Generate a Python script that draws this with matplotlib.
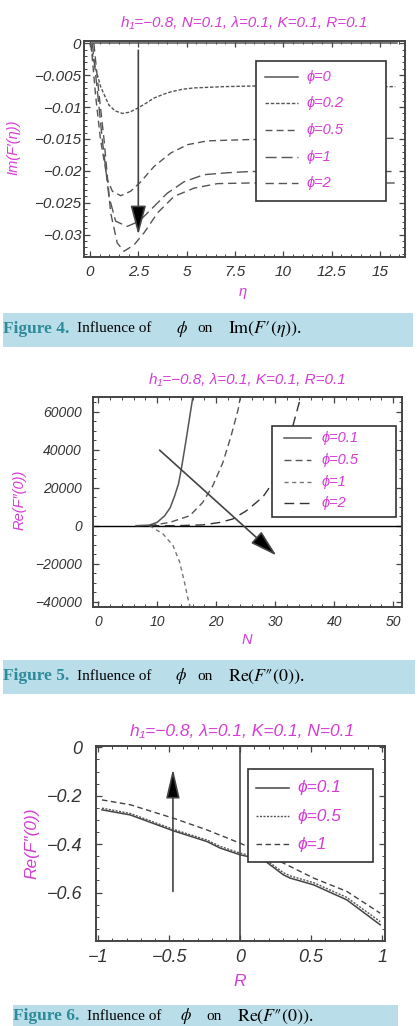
import matplotlib
matplotlib.use('Agg')
import matplotlib.pyplot as plt
from matplotlib.patches import Rectangle
from matplotlib.lines import Line2D
from matplotlib.ticker import MultipleLocator

W, H = 419, 1026
MAG = '#d63cd6'
GREY = '#555555'
TEAL = '#2e8b9a'
BAND = '#b9dde9'
SANS = ['Liberation Sans', 'DejaVu Sans']

# ---- figure 4 : Im(F'(eta)) against eta ----
eta_0 = [0.1, 15.9]
imf_0 = [0.0, 0.0]
eta_02 = [0.0, 0.25, 0.55, 0.98, 1.3, 1.68, 2.05, 2.45, 2.9, 3.3, 3.8, 4.2, 4.8, 5.4, 6.9, 8.5, 12.0, 15.8]
imf_02 = [0.0, -0.0035, -0.0068, -0.0097, -0.0106, -0.0110, -0.0108, -0.0102, -0.0094, -0.0086,
          -0.0080, -0.0076, -0.0072, -0.0070, -0.0068, -0.0067, -0.0068, -0.0068]
eta_05 = [0.05, 0.3, 0.55, 0.9, 1.16, 1.59, 2.1, 2.63, 3.32, 4.18, 5.04, 6.08, 7.1, 8.15, 12.0, 15.8]
imf_05 = [0.0, -0.0085, -0.0152, -0.0214, -0.0232, -0.0239, -0.0232, -0.0217, -0.0193, -0.0172,
          -0.0159, -0.0153, -0.0152, -0.0151, -0.0150, -0.0149]
eta_1 = [0.12, 0.4, 0.64, 0.98, 1.33, 1.93, 2.54, 3.14, 4.0, 4.87, 5.9, 7.1, 8.3, 12.0, 15.8]
imf_1 = [0.0, -0.0080, -0.0152, -0.0240, -0.0279, -0.0287, -0.0279, -0.0261, -0.0235, -0.0217,
         -0.0206, -0.0203, -0.0201, -0.0201, -0.0201]
eta_2 = [0.2, 0.45, 0.73, 1.07, 1.41, 1.76, 2.28, 2.8, 3.49, 4.35, 5.39, 6.6, 8.3, 12.0, 15.8]
imf_2 = [0.0, -0.0075, -0.0152, -0.0266, -0.0313, -0.0326, -0.0316, -0.0297, -0.0266, -0.0240,
         -0.0227, -0.0220, -0.0219, -0.0219, -0.0219]
fig4_labels = ['ϕ=0', 'ϕ=0.2', 'ϕ=0.5', 'ϕ=1', 'ϕ=2']
fig4_xticks = [0, 2.5, 5, 7.5, 10, 12.5, 15]
fig4_xlabels = ['0', '2.5', '5', '7.5', '10', '12.5', '15']
fig4_yticks = [0, -0.005, -0.01, -0.015, -0.02, -0.025, -0.03]
fig4_ylabels = ['0', '−0.005', '−0.01', '−0.015', '−0.02', '−0.025', '−0.03']

# ---- figure 5 : Re(F''(0)) against N ----
n_01 = [6.4, 8.7, 10.0, 11.25, 12.2, 12.95, 13.6, 14.07, 14.9, 15.6, 16.05]
ref_01 = [0, 300, 1800, 5200, 9500, 15700, 22000, 29600, 45300, 59200, 67900]
n_05 = [8.7, 12.1, 15.5, 17.7, 19.4, 21.1, 22.5, 23.7, 24.1]
ref_05 = [0, 1700, 5200, 12200, 20900, 33000, 47000, 60900, 67900]
n_1 = [8.7, 10.97, 12.66, 13.8, 14.6, 15.2, 15.55]
ref_1 = [0, -4350, -10400, -19200, -29600, -38300, -42500]
n_2 = [8.7, 13.2, 17.7, 20.6, 22.8, 25.1, 26.8, 28.0, 29.4, 31.3, 33.05, 34.2, 34.4]
ref_2 = [0, 0, 400, 1700, 3500, 7800, 12200, 15500, 21800, 37000, 53100, 66200, 67900]
fig5_labels = ['ϕ=0.1', 'ϕ=0.5', 'ϕ=1', 'ϕ=2']
fig5_xticks = [0, 10, 20, 30, 40, 50]
fig5_yticks = [60000, 40000, 20000, 0, -20000, -40000]
fig5_ylabels = ['60000', '40000', '20000', '0', '−20000', '−40000']

# ---- figure 6 : Re(F''(0)) against R ----
r_vals = [-0.974, -0.775, -0.469, -0.234, -0.141, 0.0, 0.165, 0.305, 0.352, 0.517, 0.751, 0.986]
ref6_01 = [-0.258, -0.279, -0.345, -0.389, -0.416, -0.444, -0.465, -0.527, -0.540, -0.568, -0.630, -0.733]
ref6_05 = [-0.251, -0.273, -0.339, -0.383, -0.409, -0.437, -0.458, -0.518, -0.531, -0.559, -0.620, -0.720]
r_vals_1 = [-0.974, -0.775, -0.469, -0.234, 0.0, 0.211, 0.517, 0.751, 0.986]
ref6_1 = [-0.217, -0.237, -0.293, -0.341, -0.396, -0.451, -0.540, -0.595, -0.685]
fig6_labels = ['ϕ=0.1', 'ϕ=0.5', 'ϕ=1']
fig6_xticks = [-1, -0.5, 0, 0.5, 1]
fig6_xlabels = ['−1', '−0.5', '0', '0.5', '1']
fig6_yticks = [0, -0.2, -0.4, -0.6]
fig6_ylabels = ['0', '−0.2', '−0.4', '−0.6']


def fx(x):
    return x / W


def fy(y):
    return 1 - y / H


fig = plt.figure(figsize=(W / 100, H / 100), dpi=100)


def make_axes(left, top, right, bottom):
    ax = fig.add_axes([fx(left), fy(bottom), (right - left) / W, (bottom - top) / H])
    for s in ax.spines.values():
        s.set_color('#444444')
        s.set_linewidth(1.4)
    return ax


def style_ticks(ax, fs, xpad, ypad, xminor, yminor):
    ax.xaxis.set_minor_locator(MultipleLocator(xminor))
    ax.yaxis.set_minor_locator(MultipleLocator(yminor))
    ax.tick_params(which='both', direction='in', top=True, right=True, colors='#444444',
                   labelcolor='#333333', labelsize=fs)
    ax.tick_params(which='major', length=4, width=0.9)
    ax.tick_params(which='minor', length=2, width=0.7)
    ax.tick_params(axis='x', pad=xpad)
    ax.tick_params(axis='y', pad=ypad)
    for lab in ax.get_xticklabels() + ax.get_yticklabels():
        lab.set_fontstyle('italic')
        lab.set_family(SANS)


def legend_box(box, rows, xline, xtext, labels, styles, fs):
    x0, y0, x1, y1 = box
    fig.patches.append(Rectangle((fx(x0), fy(y1)), (x1 - x0) / W, (y1 - y0) / H,
                                 transform=fig.transFigure, facecolor='white',
                                 edgecolor='#333333', lw=1.2))
    for y, lab, st in zip(rows, labels, styles):
        fig.lines.append(Line2D([fx(xline[0]), fx(xline[1])], [fy(y), fy(y)],
                                transform=fig.transFigure, **st))
        fig.text(fx(xtext), fy(y), lab, color=MAG, fontsize=fs, fontstyle='italic',
                 family=SANS, va='center', ha='left')


def caption(band, yc, num, xs, what):
    x0, y0, x1, y1 = band
    fig.patches.append(Rectangle((fx(x0), fy(y1)), (x1 - x0) / W, (y1 - y0) / H,
                                 transform=fig.transFigure, facecolor=BAND, edgecolor='none'))
    fig.text(fx(xs[0]), fy(yc), 'Figure %d.' % num, color=TEAL, fontsize=12.5,
             fontweight='bold', family='Liberation Serif', va='center')
    fig.text(fx(xs[1]), fy(yc), 'Influence of', color='black', fontsize=11,
             family='Liberation Serif', va='center')
    fig.text(fx(xs[2]), fy(yc), r'$\phi$', color='black', fontsize=12,
             math_fontfamily='stix', va='center')
    fig.text(fx(xs[3]), fy(yc), 'on', color='black', fontsize=11,
             family='Liberation Serif', va='center')
    fig.text(fx(xs[4]), fy(yc), what, color='black', fontsize=13,
             family='Liberation Serif', math_fontfamily='stix', va='center')


# ================= panel 1 =================
ax1 = make_axes(84, 40.7, 405, 257)
st1 = [dict(color=GREY, lw=1.1),
       dict(color=GREY, lw=1.0, dashes=(2.5, 1.3)),
       dict(color=GREY, lw=1.0, dashes=(5, 3)),
       dict(color=GREY, lw=1.0, dashes=(8, 3.5)),
       dict(color=GREY, lw=1.0, dashes=(6, 3.5))]
for xs, ys, st in zip([eta_0, eta_02, eta_05, eta_1, eta_2],
                      [imf_0, imf_02, imf_05, imf_1, imf_2], st1):
    ax1.plot(xs, ys, **st)
ax1.annotate('', xy=(2.5, -0.0300), xytext=(2.5, -0.0011),
             arrowprops=dict(arrowstyle='-|>,head_length=1.5,head_width=0.4', fc='black',
                             ec='#444444', lw=1.2, shrinkA=0, shrinkB=0, mutation_scale=12))
ax1.set_xlim(-0.31, 16.3)
ax1.set_ylim(-0.0335, 0.0004)
ax1.set_xticks(fig4_xticks, fig4_xlabels)
ax1.set_yticks(fig4_yticks, fig4_ylabels)
style_ticks(ax1, 11, 6, 2, 0.5, 0.001)
legend_box((256, 61, 386, 200.7), [76.7, 103.3, 130, 156.7, 183.3], (265, 298), 306.7,
           fig4_labels, st1, 10.5)
fig.text(fx(244), fy(23), 'h₁=−0.8, N=0.1, λ=0.1, K=0.1, R=0.1', color=MAG, fontsize=11,
         fontstyle='italic', family=SANS, ha='center', va='center')
fig.text(fx(13), fy(147), 'Im(F′(η))', color=MAG, fontsize=10.5, fontstyle='italic',
         family=SANS, rotation=90, ha='center', va='center')
fig.text(fx(243), fy(292), 'η', color=MAG, fontsize=10.5, fontstyle='italic',
         family=SANS, ha='center', va='center')
caption((3, 312.7, 413, 346.7), 329, 4, [3.3, 77, 176, 197, 228],
        "$\\mathrm{Im}\\left(F\u2032(\\eta)\\right)$.")

# ================= panel 2 =================
ax2 = make_axes(93, 396.7, 402, 606.7)
st2 = [dict(color=GREY, lw=1.1),
       dict(color=GREY, lw=1.0, dashes=(5, 3)),
       dict(color='#777777', lw=1.0, dashes=(3, 2.5)),
       dict(color='#333333', lw=1.0, dashes=(7, 4))]
ax2.axhline(0, color='black', lw=1.0)
for xs, ys, st in zip([n_01, n_05, n_1, n_2], [ref_01, ref_05, ref_1, ref_2], st2):
    ax2.plot(xs, ys, **st)
ax2.annotate('', xy=(30.2, -15700), xytext=(10.4, 39700),
             arrowprops=dict(arrowstyle='-|>,head_length=1.4,head_width=0.4', fc='black',
                             ec='#444444', lw=1.2, shrinkA=0, shrinkB=0, mutation_scale=12))
ax2.set_xlim(-0.9, 51.5)
ax2.set_ylim(-42600, 67800)
ax2.set_xticks(fig5_xticks, [str(v) for v in fig5_xticks])
ax2.set_yticks(fig5_yticks, fig5_ylabels)
style_ticks(ax2, 10, 6, 8, 2, 5000)
legend_box((271.7, 425.7, 395.7, 516.7), [438.3, 460, 481.7, 503.3], (284, 311), 321.7,
           fig5_labels, st2, 10.5)
fig.text(fx(247.5), fy(380), 'h₁=−0.8, λ=0.1, K=0.1, R=0.1', color=MAG, fontsize=11,
         fontstyle='italic', family=SANS, ha='center', va='center')
fig.text(fx(20), fy(500), 'Re(F″(0))', color=MAG, fontsize=10.5, fontstyle='italic',
         family=SANS, rotation=90, ha='center', va='center')
fig.text(fx(247), fy(640), 'N', color=MAG, fontsize=10.5, fontstyle='italic',
         family=SANS, ha='center', va='center')
caption((3, 660, 415, 694), 676.5, 5, [3.3, 77, 175, 197.7, 228],
        "$\\mathrm{Re}\\left(F\u2033(0)\\right)$.")

# ================= panel 3 =================
ax3 = make_axes(96, 745.7, 385, 941)
st3 = [dict(color='#444444', lw=1.1),
       dict(color=GREY, lw=1.0, dashes=(1.5, 1.0)),
       dict(color='#444444', lw=1.0, dashes=(4, 2.5))]
ax3.axvline(0, color='#444444', lw=1.2)
for xs, ys, st in zip([r_vals, r_vals, r_vals_1], [ref6_01, ref6_05, ref6_1], st3):
    ax3.plot(xs, ys, **st)
ax3.annotate('', xy=(-0.474, -0.0895), xytext=(-0.474, -0.595),
             arrowprops=dict(arrowstyle='-|>,head_length=1.5,head_width=0.35', fc='black',
                             ec='#444444', lw=1.2, shrinkA=0, shrinkB=0, mutation_scale=12))
ax3.set_xlim(-1.016, 1.02)
ax3.set_ylim(-0.8, 0.007)
ax3.set_xticks(fig6_xticks, fig6_xlabels)
ax3.set_yticks(fig6_yticks, fig6_ylabels)
style_ticks(ax3, 13, 6, 10, 0.1, 0.05)
legend_box((248.3, 769.3, 372.7, 861.7), [787.7, 816, 844.3], (256, 289.3), 297.7,
           fig6_labels, st3, 12.5)
fig.text(fx(241.7), fy(732), 'h₁=−0.8, λ=0.1, K=0.1, N=0.1', color=MAG, fontsize=12.5,
         fontstyle='italic', family=SANS, ha='center', va='center')
fig.text(fx(32), fy(843), 'Re(F″(0))', color=MAG, fontsize=12.5, fontstyle='italic',
         family=SANS, rotation=90, ha='center', va='center')
fig.text(fx(240), fy(982), 'R', color=MAG, fontsize=12.5, fontstyle='italic',
         family=SANS, ha='center', va='center')
caption((12.7, 1005, 398, 1030), 1016.5, 6, [13.3, 86.7, 180, 206.7, 236.7],
        "$\\mathrm{Re}\\left(F\u2033(0)\\right)$.")

fig.savefig('out.png', dpi=100)
